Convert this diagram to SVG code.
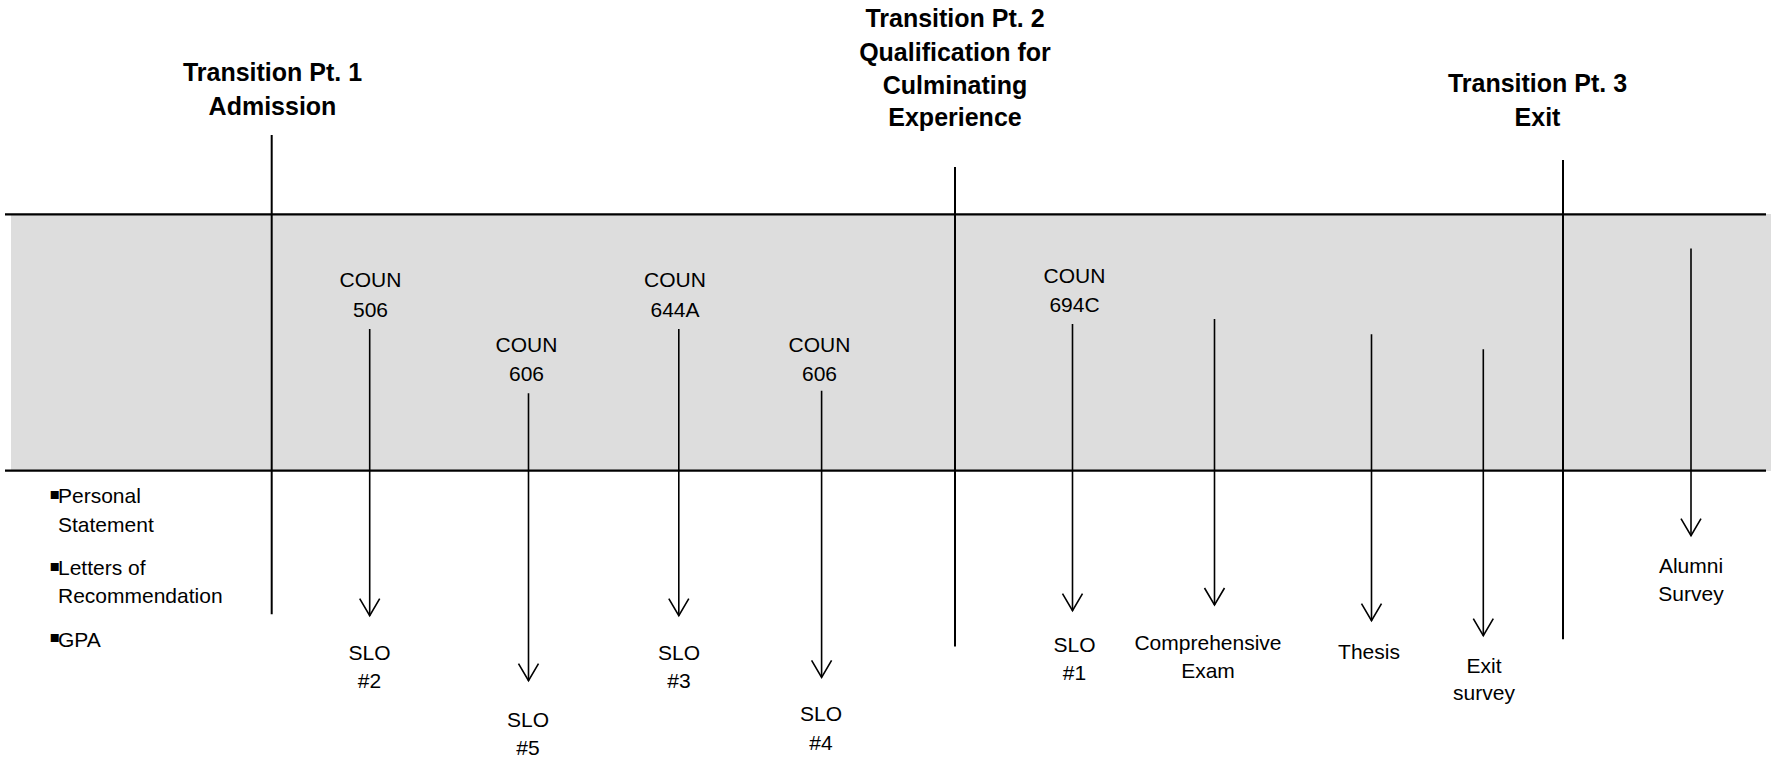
<svg xmlns="http://www.w3.org/2000/svg" width="1771" height="758" viewBox="0 0 1771 758">
<style>
.t{font-family:"Liberation Sans",Arial,sans-serif;font-weight:bold;font-size:25px;fill:#000;text-anchor:middle}
.l{font-family:"Liberation Sans",Arial,sans-serif;font-size:21px;fill:#000;text-anchor:middle}
.b{font-family:"Liberation Sans",Arial,sans-serif;font-size:21px;fill:#000}
.bul{font-family:"DejaVu Sans",sans-serif;font-size:16px}
.tp{stroke:#000;stroke-width:2;fill:none}
.ar{stroke:#000;stroke-width:1.6;fill:none;marker-end:url(#v)}
.hl{stroke:#000;stroke-width:2.2}
</style>
<defs>
<marker id="v" markerUnits="userSpaceOnUse" viewBox="-20 -20 40 40" markerWidth="40" markerHeight="40" refX="0" refY="0" orient="auto" overflow="visible">
<path d="M-17,-10 L0,0 L-17,10" fill="none" stroke="#000" stroke-width="1.6"/>
</marker>
</defs>
<rect id="band" x="11" y="214" width="1760" height="257" fill="#dddddd"/>
<g id="timeline">
<line class="hl" x1="5" y1="214.3" x2="1766" y2="214.3"/>
<line class="hl" x1="5" y1="470.7" x2="1766" y2="470.7"/>
</g>
<g id="tp1">
<line class="tp" x1="271.7" y1="135" x2="271.7" y2="614.3"/>
<text class="t" x="272.5" y="81">Transition Pt. 1</text>
<text class="t" x="272.5" y="115">Admission</text>
</g>
<g id="tp2">
<line class="tp" x1="955" y1="167" x2="955" y2="646.5"/>
<text class="t" x="955" y="27.3">Transition Pt. 2</text>
<text class="t" x="955" y="60.5">Qualification for</text>
<text class="t" x="955" y="93.5">Culminating</text>
<text class="t" x="955" y="126">Experience</text>
</g>
<g id="tp3">
<line class="tp" x1="1563" y1="160" x2="1563" y2="639.3"/>
<text class="t" x="1537.5" y="91.7">Transition Pt. 3</text>
<text class="t" x="1537.5" y="126">Exit</text>
</g>
<g id="admission-criteria">
<text class="b" x="49.5" y="499"><tspan class="bul">▪</tspan><tspan x="58" y="503.3">Personal</tspan></text>
<text class="b" x="58" y="532.3">Statement</text>
<text class="b" x="49.5" y="570.7"><tspan class="bul">▪</tspan><tspan x="58" y="575">Letters of</tspan></text>
<text class="b" x="58" y="603.3">Recommendation</text>
<text class="b" x="49.5" y="642.4"><tspan class="bul">▪</tspan><tspan x="58" y="646.7">GPA</tspan></text>
</g>
<g id="coun506">
<text class="l" x="370.5" y="287.3">COUN</text>
<text class="l" x="370.5" y="316.7">506</text>
</g>
<g id="slo2">
<text class="l" x="369.5" y="660">SLO</text>
<text class="l" x="369.5" y="688.3">#2</text>
</g>
<g id="coun606a">
<text class="l" x="526.5" y="351.7">COUN</text>
<text class="l" x="526.5" y="381">606</text>
</g>
<g id="slo5">
<text class="l" x="528" y="726.7">SLO</text>
<text class="l" x="528" y="755">#5</text>
</g>
<g id="coun644a">
<text class="l" x="675" y="287.3">COUN</text>
<text class="l" x="675" y="316.7">644A</text>
</g>
<g id="slo3">
<text class="l" x="679" y="660">SLO</text>
<text class="l" x="679" y="688.3">#3</text>
</g>
<g id="coun606b">
<text class="l" x="819.5" y="351.7">COUN</text>
<text class="l" x="819.5" y="381">606</text>
</g>
<g id="slo4">
<text class="l" x="821" y="721">SLO</text>
<text class="l" x="821" y="750">#4</text>
</g>
<g id="coun694c">
<text class="l" x="1074.5" y="282.7">COUN</text>
<text class="l" x="1074.5" y="311.7">694C</text>
</g>
<g id="slo1">
<text class="l" x="1074.5" y="651.7">SLO</text>
<text class="l" x="1074.5" y="680">#1</text>
</g>
<g id="comp-exam">
<text class="l" x="1208" y="650">Comprehensive</text>
<text class="l" x="1208" y="677.7">Exam</text>
</g>
<g id="thesis">
<text class="l" x="1369" y="659.3">Thesis</text>
</g>
<g id="exit-survey">
<text class="l" x="1484" y="673.3">Exit</text>
<text class="l" x="1484" y="700">survey</text>
</g>
<g id="alumni-survey">
<text class="l" x="1691" y="572.7">Alumni</text>
<text class="l" x="1691" y="601">Survey</text>
</g>
<g id="connectors">
<line class="ar" x1="369.7" y1="329" x2="369.7" y2="615.7"/>
<line class="ar" x1="528.5" y1="393.3" x2="528.5" y2="680.7"/>
<line class="ar" x1="678.8" y1="329" x2="678.8" y2="615.7"/>
<line class="ar" x1="821.6" y1="390.7" x2="821.6" y2="677.3"/>
<line class="ar" x1="1072.5" y1="324" x2="1072.5" y2="610.7"/>
<line class="ar" x1="1214.5" y1="319" x2="1214.5" y2="605"/>
<line class="ar" x1="1371.5" y1="334.3" x2="1371.5" y2="620.7"/>
<line class="ar" x1="1483.3" y1="349.3" x2="1483.3" y2="635.7"/>
<line class="ar" x1="1691" y1="248.5" x2="1691" y2="535.7"/>
</g>
</svg>
